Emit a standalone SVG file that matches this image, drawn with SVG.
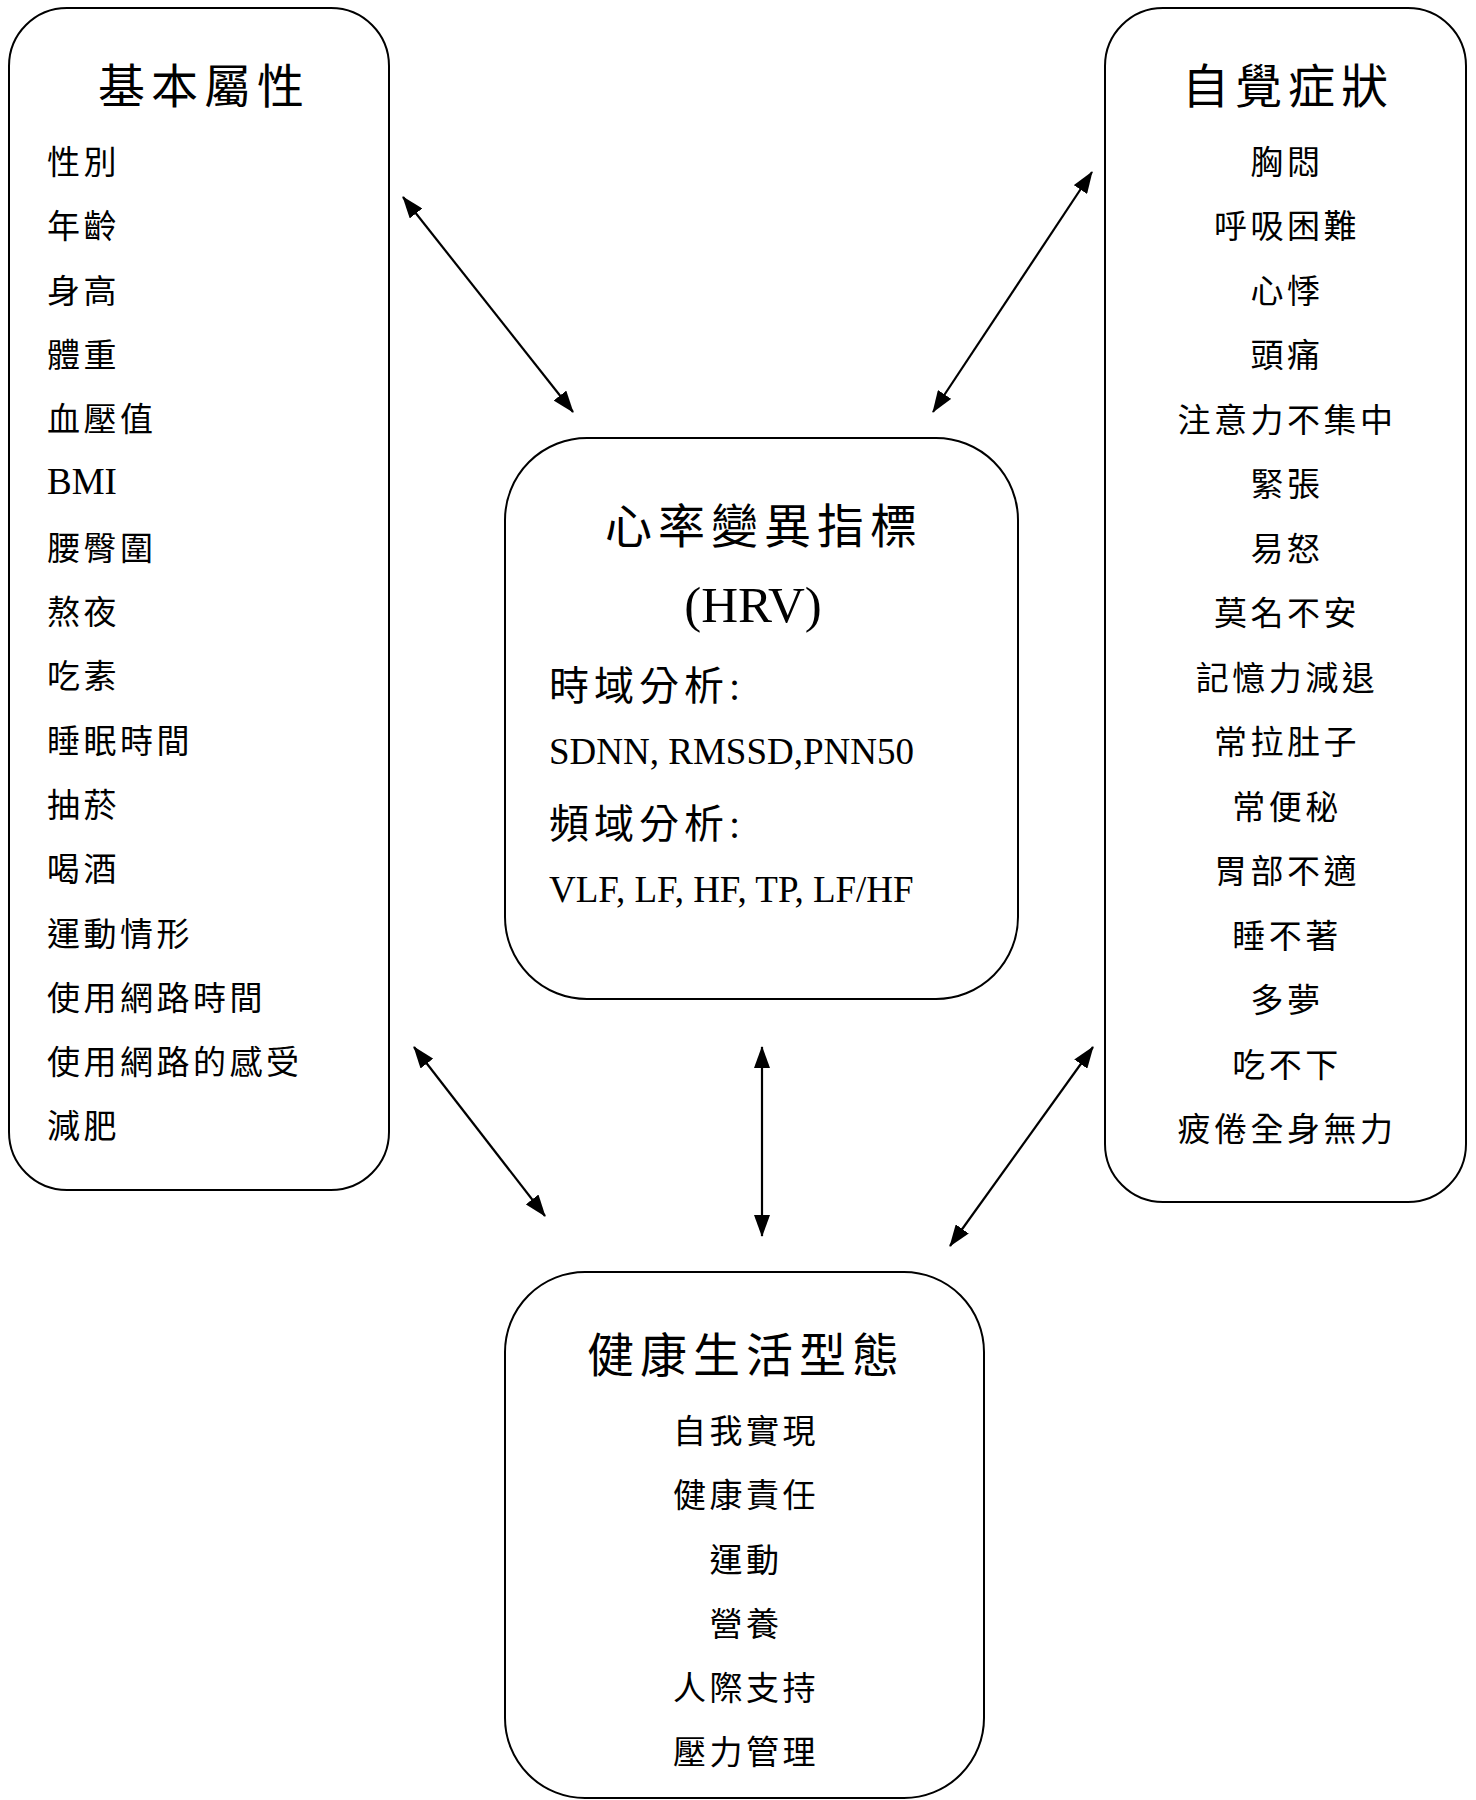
<svg xmlns="http://www.w3.org/2000/svg" width="1476" height="1800" viewBox="0 0 1476 1800">
<style>
.box{fill:#fff;stroke:#000;stroke-width:2}
text{fill:#000;font-family:'Liberation Serif','Noto Sans CJK TC',serif}
.cjk{font-family:'Noto Sans CJK TC','Liberation Serif',serif}
.title{font-size:47px;letter-spacing:6px}
.item{font-size:33px;letter-spacing:3.5px}
.lat{font-size:37px}
.mid{text-anchor:middle}
.conn{stroke:#000;stroke-width:2.2;fill:none;marker-start:url(#ah);marker-end:url(#ah)}
</style>
<defs>
<marker id="ah" markerUnits="userSpaceOnUse" markerWidth="22" markerHeight="16" refX="21" refY="8" orient="auto-start-reverse">
<path d="M0,0 L22,8 L0,16 z" fill="#000"/>
</marker>
</defs>
<rect width="1476" height="1800" fill="#fff"/>

<g id="connectors">
<line class="conn" x1="403" y1="197" x2="573" y2="412"/>
<line class="conn" x1="1092" y1="172" x2="933" y2="412"/>
<line class="conn" x1="414" y1="1047" x2="545" y2="1216"/>
<line class="conn" x1="762" y1="1047" x2="762" y2="1236"/>
<line class="conn" x1="1093" y1="1047" x2="950" y2="1246"/>
</g>

<g id="basic">
<rect class="box" x="9" y="8" width="380" height="1182" rx="58" ry="58"/>
<text class="cjk title mid" x="204" y="103">基本屬性</text>
<text class="cjk item" x="47" y="174">性別</text>
<text class="cjk item" x="47" y="238">年齡</text>
<text class="cjk item" x="47" y="303">身高</text>
<text class="cjk item" x="47" y="367">體重</text>
<text class="cjk item" x="47" y="431">血壓值</text>
<text class="lat" x="47" y="494">BMI</text>
<text class="cjk item" x="47" y="560">腰臀圍</text>
<text class="cjk item" x="47" y="624">熬夜</text>
<text class="cjk item" x="47" y="688">吃素</text>
<text class="cjk item" x="47" y="753">睡眠時間</text>
<text class="cjk item" x="47" y="817">抽菸</text>
<text class="cjk item" x="47" y="881">喝酒</text>
<text class="cjk item" x="47" y="946">運動情形</text>
<text class="cjk item" x="47" y="1010">使用網路時間</text>
<text class="cjk item" x="47" y="1074">使用網路的感受</text>
<text class="cjk item" x="47" y="1138">減肥</text>
</g>

<g id="symptoms">
<rect class="box" x="1105" y="8" width="361" height="1194" rx="58" ry="58"/>
<text class="cjk title mid" x="1288" y="103">自覺症狀</text>
<text class="cjk item mid" x="1287" y="174">胸悶</text>
<text class="cjk item mid" x="1287" y="238">呼吸困難</text>
<text class="cjk item mid" x="1287" y="303">心悸</text>
<text class="cjk item mid" x="1287" y="367">頭痛</text>
<text class="cjk item mid" x="1287" y="432">注意力不集中</text>
<text class="cjk item mid" x="1287" y="496">緊張</text>
<text class="cjk item mid" x="1287" y="561">易怒</text>
<text class="cjk item mid" x="1287" y="625">莫名不安</text>
<text class="cjk item mid" x="1287" y="690">記憶力減退</text>
<text class="cjk item mid" x="1287" y="754">常拉肚子</text>
<text class="cjk item mid" x="1287" y="819">常便秘</text>
<text class="cjk item mid" x="1287" y="883">胃部不適</text>
<text class="cjk item mid" x="1287" y="948">睡不著</text>
<text class="cjk item mid" x="1287" y="1012">多夢</text>
<text class="cjk item mid" x="1287" y="1077">吃不下</text>
<text class="cjk item mid" x="1287" y="1141">疲倦全身無力</text>
</g>

<g id="hrv">
<rect class="box" x="505" y="438" width="513" height="561" rx="82" ry="82"/>
<text class="cjk title mid" x="764" y="543">心率變異指標</text>
<text class="mid" x="753" y="622" font-size="51">(HRV)</text>
<text x="549" y="700" font-size="40" letter-spacing="5">時域分析:</text>
<text class="lat" x="549" y="764">SDNN, RMSSD,PNN50</text>
<text x="549" y="838" font-size="40" letter-spacing="5">頻域分析:</text>
<text class="lat" x="549" y="902">VLF, LF, HF, TP, LF/HF</text>
</g>

<g id="lifestyle">
<rect class="box" x="505" y="1272" width="479" height="526" rx="80" ry="80"/>
<text class="cjk title mid" x="746" y="1372">健康生活型態</text>
<text class="cjk item mid" x="746" y="1443">自我實現</text>
<text class="cjk item mid" x="746" y="1507">健康責任</text>
<text class="cjk item mid" x="746" y="1572">運動</text>
<text class="cjk item mid" x="746" y="1636">營養</text>
<text class="cjk item mid" x="746" y="1700">人際支持</text>
<text class="cjk item mid" x="746" y="1764">壓力管理</text>
</g>
</svg>
